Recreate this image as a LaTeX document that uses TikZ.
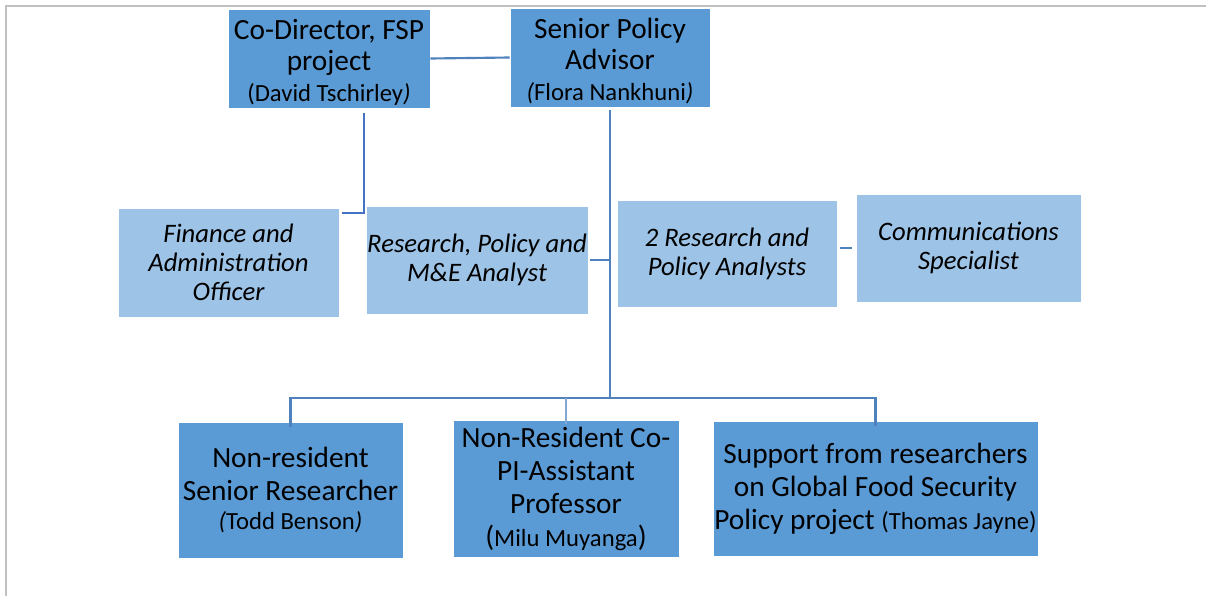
\documentclass[tikz,border=0pt]{standalone}
\usepackage{fontspec}
\setmainfont{Carlito}
\definecolor{darkbox}{HTML}{5B9BD5}
\definecolor{lightbox}{HTML}{9DC3E6}
\definecolor{conn}{HTML}{4F81BD}
\definecolor{conn2}{HTML}{4472C4}
\definecolor{framecol}{HTML}{C0C0C0}
\newcommand{\fszsm}{\fontsize{18.5pt}{20pt}\selectfont}
\newcommand{\topstrut}{\rule{0pt}{21pt}}
\begin{document}
\begin{tikzpicture}[x=0.75pt,y=-0.75pt,
  box/.style={rectangle,draw=white,line width=0.4pt,inner sep=1pt,align=center,text=black},
  darkb/.style={box,fill=darkbox},
  lightb/.style={box,fill=lightbox,font=\fontsize{20pt}{21.75pt}\selectfont\itshape},
  topb/.style={darkb,font=\fontsize{22pt}{23.25pt}\selectfont},
  botb/.style={darkb,font=\fontsize{22pt}{24.75pt}\selectfont},
  link/.style={draw=conn,line width=2pt},
  thin link/.style={draw=conn!70,line width=1.2pt}]
\useasboundingbox (0,0) rectangle (1206,596);
% page frame
\draw[framecol,line width=2pt] (1206,6) -- (6,6) -- (6,596);

\node[topb,minimum width=151.5pt,minimum height=74.25pt] (co) at (329,58.5)
  {\topstrut Co-Director, FSP\\ project\\ {\fszsm (David Tschirley\textit{)}}};
\node[topb,minimum width=150pt,minimum height=74.25pt] (sen) at (610,57.5)
  {\topstrut Senior Policy\\ Advisor\\ {\fszsm \textit{(}Flora Nankhuni\textit{)}}};

\node[lightb,minimum width=165.75pt,minimum height=81.75pt] (fin) at (228.5,262.5)
  {Finance and\\ Administration\\ Officer};
\node[lightb,minimum width=165pt,minimum height=81pt] (rpm) at (477,260)
  {Research, Policy and\\ M\&E Analyst};
\node[lightb,minimum width=165pt,minimum height=80.25pt] (rp2) at (727,253.5)
  {2 Research and\\ Policy Analysts};
\node[lightb,minimum width=168.75pt,minimum height=81pt] (com) at (968.5,248)
  {Communications\\ Specialist};

\node[botb,minimum width=168.75pt,minimum height=102pt] (nrs) at (290.5,490)
  {Non-resident\\ Senior Researcher\\[-3.5pt] {\fszsm \textit{(}Todd Benson\textit{)}}};
\node[botb,minimum width=169.5pt,minimum height=102.75pt] (nrc) at (566,488.5)
  {Non-Resident Co-\\ PI-Assistant\\ Professor\\ ({\fszsm Milu Muyanga})};
\node[botb,minimum width=243.75pt,minimum height=101.25pt] (sup) at (875.5,488.5)
  {Support from researchers\\ on Global Food Security\\ Policy project {\fszsm(Thomas Jayne)}};

% connectors
\draw[draw=conn,line width=1.6pt] (co.east) -- (sen.west);
\coordinate (cotop) at (364,113);
\coordinate (fintop) at (342,213);
\draw[draw=conn2,line width=1.6pt] (cotop) |- (fintop);
\coordinate (senbot) at (610,110);
\coordinate (bus) at (610,398);
\draw[link] (senbot) -- (bus);
\draw[link] ([yshift=-4pt]nrs.north) |- (bus) -| ([yshift=-4pt]sup.north);
\draw[thin link] ([yshift=-3pt]nrc.north) -- (nrc.north |- bus);
\draw[link] ([xshift=1pt]rpm.east) -- (rpm.east -| bus);
\draw[link] ([xshift=2pt]rp2.east |- com.west) -- ([xshift=-3pt]com.west);
\end{tikzpicture}
\end{document}
